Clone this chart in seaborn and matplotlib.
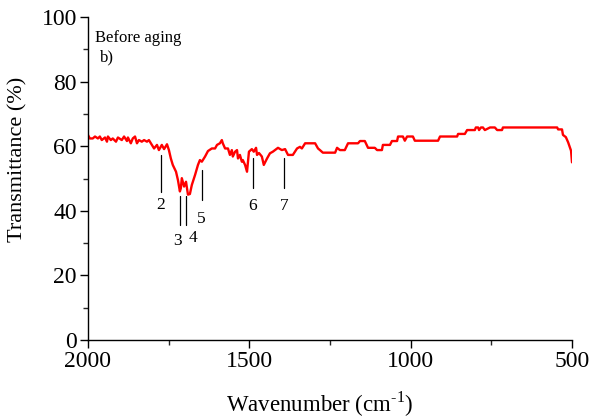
import numpy as np
import pandas as pd
import matplotlib
matplotlib.use("Agg")
import matplotlib.pyplot as plt
import seaborn as sns

wavenumber = [2000, 1994, 1985, 1978, 1969, 1963, 1957, 1947, 1941, 1938, 1929, 1923, 1913, 1907,
              1895, 1888, 1879, 1876, 1867, 1861, 1854, 1848, 1842, 1833, 1826, 1817, 1811, 1802,
              1795, 1786, 1780, 1771, 1764, 1755, 1749, 1743, 1737, 1727, 1721, 1715, 1712, 1709,
              1702, 1696, 1690, 1684, 1678, 1668, 1659, 1653, 1647, 1637, 1628, 1616, 1606, 1600,
              1591, 1585, 1582, 1575, 1566, 1560, 1554, 1551, 1544, 1538, 1535, 1529, 1523, 1520,
              1513, 1507, 1504, 1501, 1492, 1486, 1479, 1476, 1470, 1461, 1455, 1445, 1436, 1427,
              1411, 1399, 1389, 1380, 1365, 1352, 1343, 1337, 1327, 1296, 1287, 1281, 1272, 1234,
              1228, 1219, 1204, 1194, 1163, 1157, 1142, 1132, 1111, 1104, 1089, 1086, 1064, 1058,
              1042, 1039, 1024, 1018, 1011, 993, 987, 915, 909, 856, 853, 832, 825, 801, 798, 791,
              788, 782, 776, 770, 754, 739, 732, 717, 714, 546, 543, 531, 528, 519, 512, 503, 500]
transmittance = [63.5, 62.4, 62.4, 63.0, 62.4, 63.0, 61.9, 62.7, 61.4, 63.0, 61.9, 62.4, 61.4, 62.7,
                 61.9, 63.0, 61.6, 62.7, 60.9, 62.4, 63.0, 60.9, 61.9, 61.4, 61.9, 61.4, 61.9, 60.4,
                 59.3, 60.4, 58.8, 60.4, 59.1, 60.6, 58.8, 56.2, 54.2, 52.1, 49.5, 46.0, 47.0, 50.1,
                 47.5, 49.0, 45.0, 45.2, 48.0, 51.1, 54.2, 55.7, 55.2, 56.8, 58.5, 59.3, 59.3, 60.4,
                 60.9, 61.9, 60.9, 59.3, 59.3, 57.3, 58.8, 56.8, 58.3, 58.8, 56.2, 57.3, 55.2, 55.7,
                 54.2, 52.1, 55.2, 58.3, 59.1, 58.3, 59.5, 57.3, 57.9, 56.8, 54.2, 56.2, 57.8, 58.3,
                 59.5, 58.8, 59.1, 57.3, 57.3, 59.3, 59.8, 59.3, 60.9, 60.9, 59.3, 58.8, 58.0, 58.0,
                 59.5, 58.8, 58.8, 60.9, 60.9, 61.6, 61.6, 59.5, 59.5, 58.8, 58.8, 60.4, 60.4, 61.6,
                 61.6, 63.0, 63.0, 61.7, 63.0, 63.0, 61.7, 61.7, 63.0, 63.0, 63.8, 63.8, 65.0, 65.0,
                 65.8, 65.8, 65.0, 65.8, 65.8, 65.0, 65.8, 65.8, 65.0, 65.0, 65.8, 65.8, 65.2, 65.2,
                 63.5, 62.8, 61.2, 58.6, 55.0]

peak_labels = ["2", "3", "4", "5", "6", "7"]
peak_positions = [1774, 1715, 1696, 1647, 1489, 1393]

x_ticks = [2000, 1500, 1000, 500]
y_ticks = [0, 20, 40, 60, 80, 100]

df = pd.DataFrame({"Wavenumber": wavenumber, "Transmittance": transmittance})

sns.set_style("ticks")
plt.rcParams["font.family"] = ["Liberation Serif", "DejaVu Serif"]
plt.rcParams["mathtext.fontset"] = "custom"
plt.rcParams["mathtext.rm"] = "Liberation Serif"

fig = plt.figure(figsize=(5.9, 4.2), dpi=100)
ax = fig.add_axes([0.149, 0.1905, 0.8205, 0.769])

sns.lineplot(data=df, x="Wavenumber", y="Transmittance", ax=ax, color="#ff0000",
             linewidth=1.7, estimator=None, sort=False)

ax.set_xlim(2000, 500)
ax.set_ylim(0, 100)
ax.set_xticks(x_ticks)
ax.set_xticks([1750, 1250, 750], minor=True)
ax.set_yticks(y_ticks)
ax.set_yticks([10, 30, 50, 70, 90], minor=True)
ax.tick_params(axis="both", which="major", direction="out", length=6, width=1,
               labelsize=17, colors="black", pad=2)
ax.tick_params(axis="both", which="minor", direction="out", length=3.5, width=1)
for s in ["top", "right"]:
    ax.spines[s].set_visible(False)
for s in ["left", "bottom"]:
    ax.spines[s].set_color("black")
    ax.spines[s].set_linewidth(1)

ax.set_xlabel("Wavenumber (cm$^{\\mathregular{\u2010}1}$)", fontsize=16.5, color="black",
              va="center")
ax.set_ylabel("Transmittance (%)", fontsize=16, color="black", va="center")
ax.xaxis.set_label_coords(0.479, -0.2)
ax.yaxis.set_label_coords(-0.145, 0.56)

# peak markers: (line top, line bottom, label x, label y)
marker_style = {
    "2": (57.3, 45.8, 1774, 44.3),
    "3": (44.6, 35.6, 1721, 33.0),
    "4": (44.6, 35.6, 1675, 34.2),
    "5": (52.6, 43.3, 1650, 40.0),
    "6": (56.3, 47.0, 1489, 44.0),
    "7": (56.3, 47.0, 1393, 44.0),
}
for lab, pos in zip(peak_labels, peak_positions):
    top, bot, lx, ly = marker_style[lab]
    ax.plot([pos, pos], [top, bot], color="black", linewidth=0.9)
    ax.text(lx, ly, lab, ha="center", va="top", fontsize=12.5, color="black")

ax.text(1978, 93.5, "Before aging", fontsize=12, ha="left", va="center", color="black")
ax.text(1963, 87.6, "b)", fontsize=12, ha="left", va="center", color="black")

fig.savefig("out.png", dpi=100)
